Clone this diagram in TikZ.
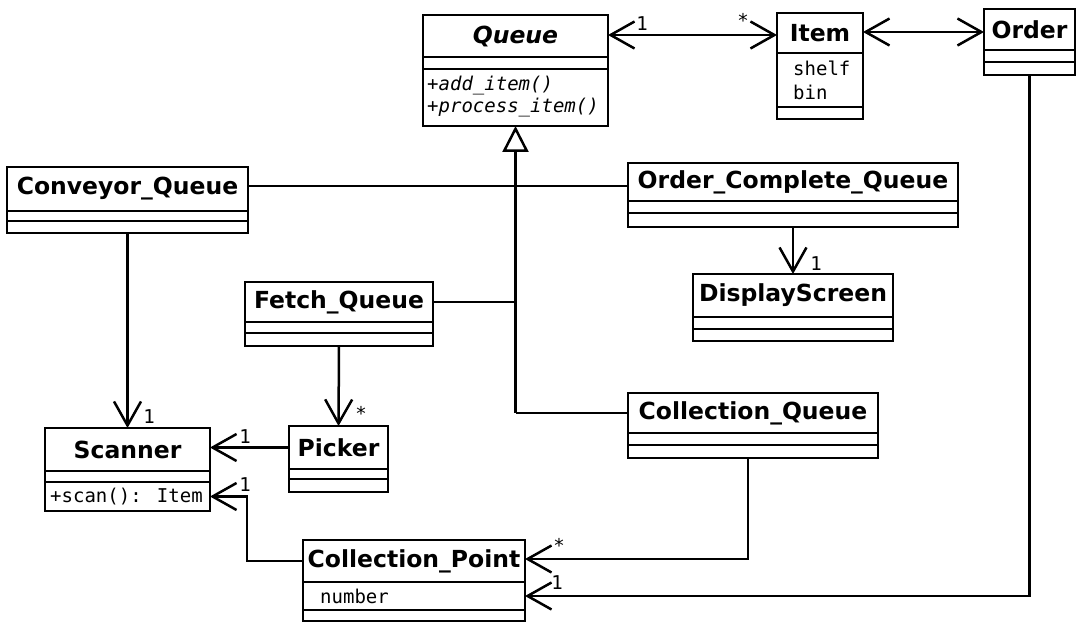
\documentclass[tikz,border=0pt]{standalone}
\usepackage{fontspec}
\setmainfont{DejaVu Sans}
\newfontfamily\umlmono{DejaVu Sans Mono}
\usetikzlibrary{arrows.meta,calc}

% one rectangular compartment of a class box, given by its corners
\newcommand{\umlbox}[6][]{%
  \node[box,#1,minimum width={#4-#2},minimum height={#5-#3}]
    (#6) at ({(#2+#4)/2},{(#3+#5)/2}) {};}

\begin{document}
\begin{tikzpicture}[x=1pt,y=-1pt,
  box/.style={draw,line width=2.6pt,inner sep=0pt,outer sep=0pt},
  clsname/.style={font=\fontsize{23.5}{28}\selectfont\bfseries,inner sep=0pt},
  member/.style={font=\fontsize{19}{22}\selectfont\umlmono,inner sep=0pt,anchor=west},
  method/.style={member,font=\fontsize{19}{22}\selectfont\umlmono\itshape},
  mult/.style={font=\fontsize{19}{20}\selectfont\umlmono,inner sep=0pt},
  link/.style={line width=2.5pt},
  barb/.tip={Straight Barb[length=24pt,width=27pt,line width=2.5pt]},
  assoc/.style={link,-barb},
  biassoc/.style={link,barb-barb},
  gen/.style={link,-{Triangle[open,length=26pt,width=26pt,line width=2.5pt]}}]
\useasboundingbox (0,0) rectangle (1077,623);

% ---- classes ----
% Queue (abstract)
\umlbox{423}{15}{608}{57}{queue}
\umlbox{423}{57}{608}{69}{queue-a}
\umlbox{423}{69}{608}{126}{queue-m}
\node[clsname] at (queue) {\itshape Queue};
\node[method] at ([xshift=4pt,yshift=11.5pt]queue-m.west) {+add\_item()};
\node[method] at ([xshift=4pt,yshift=-10.5pt]queue-m.west) {+process\_item()};

% Item
\umlbox{777}{13}{863}{53}{item}
\umlbox{777}{53}{863}{107}{item-a}
\umlbox{777}{107}{863}{119}{item-m}
\node[clsname] at (item) {Item};
\node[member] at ([xshift=16pt,yshift=12pt]item-a.west) {shelf};
\node[member] at ([xshift=16pt,yshift=-12pt]item-a.west) {bin};

% Order
\umlbox{984}{9}{1075}{50}{order}
\umlbox{984}{50}{1075}{62}{order-a}
\umlbox{984}{62}{1075}{75}{order-m}
\node[clsname] at (order) {Order};

% Conveyor_Queue
\umlbox{7}{167}{248}{211}{conv}
\umlbox{7}{211}{248}{221}{conv-a}
\umlbox{7}{221}{248}{233}{conv-m}
\node[clsname] at (conv) {Conveyor\_Queue};

% Order_Complete_Queue
\umlbox{628}{163}{958}{201}{ocq}
\umlbox{628}{201}{958}{213}{ocq-a}
\umlbox{628}{213}{958}{227}{ocq-m}
\node[clsname] at (ocq) {Order\_Complete\_Queue};

% DisplayScreen
\umlbox{693}{274}{893}{317}{disp}
\umlbox{693}{317}{893}{329}{disp-a}
\umlbox{693}{329}{893}{341}{disp-m}
\node[clsname] at (disp) {DisplayScreen};

% Fetch_Queue
\umlbox{245}{282}{433}{322}{fetch}
\umlbox{245}{322}{433}{333}{fetch-a}
\umlbox{245}{333}{433}{346}{fetch-m}
\node[clsname] at (fetch) {Fetch\_Queue};

% Picker
\umlbox{289}{426}{388}{469}{picker}
\umlbox{289}{469}{388}{479}{picker-a}
\umlbox{289}{479}{388}{492}{picker-m}
\node[clsname] at (picker) {Picker};

% Scanner
\umlbox{45}{428}{210}{471}{scanner}
\umlbox{45}{471}{210}{482}{scanner-a}
\umlbox{45}{482}{210}{511}{scanner-m}
\node[clsname] at (scanner) {Scanner};
\node[member] at ([xshift=5pt]scanner-m.west) {+scan(): Item};

% Collection_Queue
\umlbox{628}{393}{878}{433}{cq}
\umlbox{628}{433}{878}{445}{cq-a}
\umlbox{628}{445}{878}{458}{cq-m}
\node[clsname] at (cq) {Collection\_Queue};

% Collection_Point
\umlbox{303}{540}{525}{582}{cp}
\umlbox{303}{582}{525}{610}{cp-a}
\umlbox{303}{610}{525}{621}{cp-m}
\node[clsname] at (cp) {Collection\_Point};
\node[member] at ([xshift=17pt]cp-a.west) {number};

% ---- generalisation tree to Queue ----
\coordinate (trunk) at (cq.west -| queue-m.south);
\draw[gen] (trunk) -- (queue-m.south);
\draw[link] (cq.west) -- (trunk);
\draw[link] (fetch.east) -- (fetch.east -| queue-m.south);
\draw[link] ([yshift=3pt]conv.east) -- ([yshift=3pt]conv.east -| ocq.west);

% ---- associations ----
\draw[biassoc] ([yshift=1pt]queue.east) -- ([yshift=1pt]queue.east -| item.west);
\node[mult] at (642,24) {1};
\node[mult] at (743,20) {*};

\draw[biassoc] ([yshift=1pt]item.east) -- ([yshift=1pt]item.east -| order.west);

\draw[assoc] (ocq-m.south) -- (disp.north);
\node[mult] at (816,264) {1};

\draw[assoc] (conv-m.south) -- (scanner.north);
\node[mult] at (149,417) {1};

\draw[assoc] (fetch-m.south) -- (picker.north);
\node[mult] at (361,413) {*};

\draw[assoc] (picker.west) -- (picker.west -| scanner.east);
\node[mult] at (245,437) {1};

\draw[assoc] (cp.west) -| ($(scanner-m.east)+(37,0)$) -- (scanner-m.east);
\node[mult] at (245,485) {1};

\draw[assoc] ([xshift=-5pt]cq-m.south) |- ([yshift=2pt]cp.east);
\node[mult] at (559,545) {*};

\draw[assoc] (order-m.south) |- (cp-a.east);
\node[mult] at (557,583) {1};
\end{tikzpicture}
\end{document}
